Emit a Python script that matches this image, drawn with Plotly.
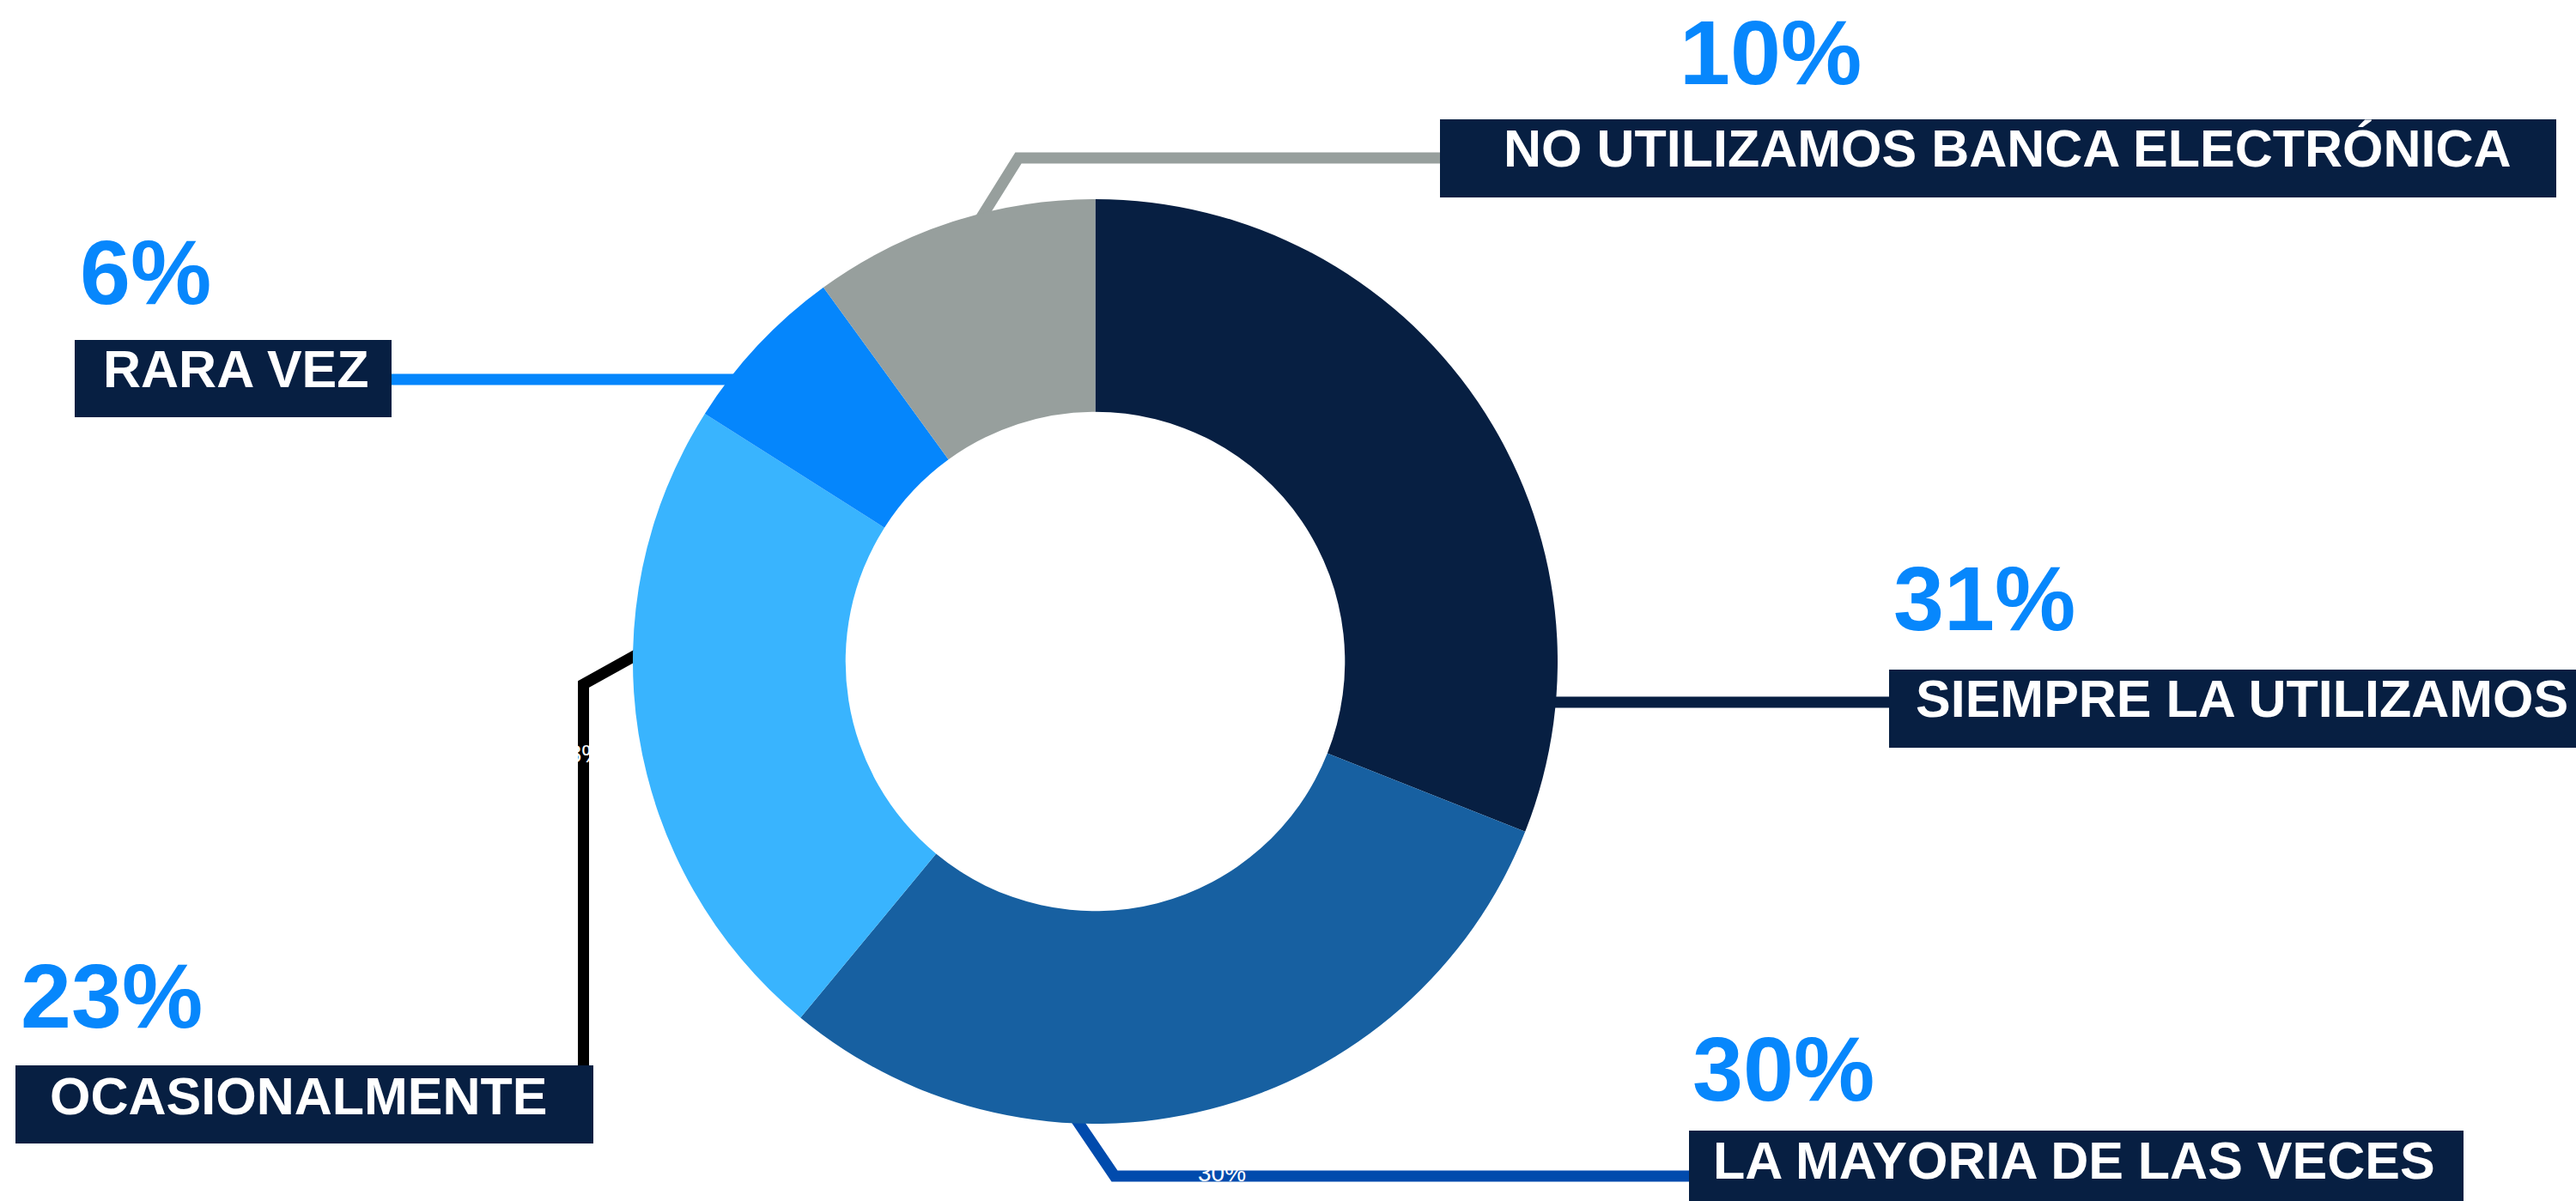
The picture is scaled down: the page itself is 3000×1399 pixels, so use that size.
import plotly.graph_objects as go

# Survey shares, clockwise from 12 o'clock
categories = [
    "SIEMPRE LA UTILIZAMOS",
    "LA MAYORIA DE LAS VECES",
    "OCASIONALMENTE",
    "RARA VEZ",
    "NO UTILIZAMOS BANCA ELECTRÓNICA",
]
shares = [31, 30, 23, 6, 10]
pct_labels = ["31%", "30%", "23%", "6%", "10%"]
slice_colors = ["#071f42", "#1760a1", "#39b4fe", "#0586fc", "#979f9d"]
leader_colors = ["#071f42", "#014bad", "#000000", "#0586fc", "#979f9d"]

W, H = 3000, 1399
NAVY = "#071f42"
PCT_BLUE = "#0787fc"
FONT = "Liberation Sans, Arial, sans-serif"


def px(x):
    return x / W


def py(y):
    return 1 - y / H


# donut placement (pixel centre and radius)
cx, cy, r = 1275.5, 770.5, 538.5

fig = go.Figure(
    go.Pie(
        labels=categories,
        values=shares,
        marker=dict(colors=slice_colors, line=dict(width=0)),
        hole=0.54,
        sort=False,
        direction="clockwise",
        rotation=0,
        textinfo="none",
        hoverinfo="label+percent",
        showlegend=False,
        domain=dict(x=[px(cx - r), px(cx + r)], y=[py(cy + r), py(cy - r)]),
    )
)

# per-category label layout: leader polyline, box, text anchors
layout_spec = {
    "SIEMPRE LA UTILIZAMOS": dict(
        path=[(1790, 818), (2202, 818)],
        box=(2200, 780, 3005, 871),
        text=(2230, 814),
        pct=(2204, 697),
    ),
    "LA MAYORIA DE LAS VECES": dict(
        path=[(1250, 1299), (1298, 1370), (1969, 1370)],
        box=(1967, 1317, 2869, 1405),
        text=(1994, 1352),
        pct=(1970, 1245),
    ),
    "OCASIONALMENTE": dict(
        path=[(679.5, 1243), (679.5, 797), (748, 759)],
        box=(18, 1241, 691, 1332),
        text=(57, 1277),
        pct=(23, 1160),
    ),
    "RARA VEZ": dict(
        path=[(454, 442), (872, 442)],
        box=(87, 396, 456, 486),
        text=(119, 430),
        pct=(92, 317),
    ),
    "NO UTILIZAMOS BANCA ELECTRÓNICA": dict(
        path=[(1138, 261), (1186, 184), (1679, 184)],
        box=(1677, 139, 2977, 230),
        text=(1750, 173),
        pct=(1955, 61),
    ),
}

shapes = []
annotations = []
for cat, pct, lc in zip(categories, pct_labels, leader_colors):
    spec = layout_spec[cat]
    pts = spec["path"]
    d = "M " + " L ".join(f"{px(x):.5f},{py(y):.5f}" for x, y in pts)
    shapes.append(dict(
        type="path", xref="paper", yref="paper", path=d,
        line=dict(color=lc, width=13), layer="below",
    ))
    x0, y0, x1, y1 = spec["box"]
    shapes.append(dict(
        type="rect", xref="paper", yref="paper",
        x0=px(x0), x1=px(x1), y0=py(y1), y1=py(y0),
        fillcolor=NAVY, line=dict(width=0), layer="above",
    ))
    tx, ty = spec["text"]
    annotations.append(dict(
        text=cat, x=px(tx), y=py(ty), xref="paper", yref="paper",
        xanchor="left", yanchor="middle", showarrow=False, borderpad=0,
        font=dict(family=FONT, size=61, color="white", weight="bold"),
    ))
    pxl, pyl = spec["pct"]
    annotations.append(dict(
        text=pct, x=px(pxl), y=py(pyl), xref="paper", yref="paper",
        xanchor="left", yanchor="middle", showarrow=False, borderpad=0,
        font=dict(family=FONT, size=106, color=PCT_BLUE, weight="bold"),
    ))

# small white value labels that sit on the leader lines
annotations.append(dict(
    text="30%", x=px(1423), y=py(1366), xref="paper", yref="paper",
    xanchor="center", yanchor="middle", showarrow=False,
    font=dict(family=FONT, size=28, color="white"),
))
annotations.append(dict(
    text="23%", x=px(705), y=py(878), xref="paper", yref="paper",
    xanchor="right", yanchor="middle", showarrow=False,
    font=dict(family=FONT, size=29, color="white"),
))

fig.update_layout(
    width=W, height=H,
    margin=dict(l=0, r=0, t=0, b=0),
    paper_bgcolor="white", plot_bgcolor="white",
    shapes=shapes, annotations=annotations,
)

fig.write_html("out.html")
